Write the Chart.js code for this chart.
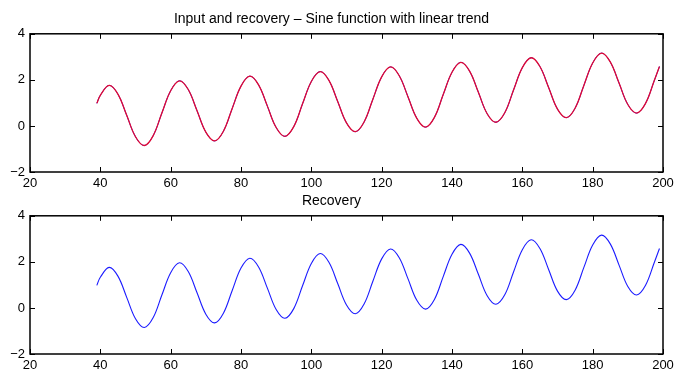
<!DOCTYPE html>
<html>
<head>
<meta charset="utf-8">
<script src="https://cdn.jsdelivr.net/npm/chart.js@4/dist/chart.umd.min.js"></script>
<style>
  body { margin: 0; background: #fff; }
  .box { position: absolute; left: 0; width: 676px; height: 190px; }
</style>
</head>
<body>
<div class="box" style="top:0"><canvas id="top"></canvas></div>
<div class="box" style="top:182px"><canvas id="bottom"></canvas></div>
<script>
// x positions (sample every 2.5 units)
const xValues = [39, 40, 42.5, 45, 47.5, 50, 52.5, 55, 57.5, 60, 62.5, 65, 67.5, 70, 72.5, 75, 77.5,
  80, 82.5, 85, 87.5, 90, 92.5, 95, 97.5, 100, 102.5, 105, 107.5, 110, 112.5, 115, 117.5,
  120, 122.5, 125, 127.5, 130, 132.5, 135, 137.5, 140, 142.5, 145, 147.5, 150, 152.5, 155, 157.5,
  160, 162.5, 165, 167.5, 170, 172.5, 175, 177.5, 180, 182.5, 185, 187.5, 190, 192.5, 195, 197.5, 199];

const inputSeries = [0.98, 1.33, 1.76, 1.38, 0.46, -0.47, -0.85, -0.43, 0.56, 1.53, 1.96, 1.58, 0.66,
  -0.27, -0.65, -0.23, 0.76, 1.73, 2.16, 1.78, 0.86, -0.07, -0.45, -0.03, 0.96, 1.93, 2.36, 1.98, 1.06,
  0.13, -0.25, 0.17, 1.16, 2.13, 2.56, 2.18, 1.26, 0.33, -0.05, 0.37, 1.36, 2.33, 2.76, 2.38, 1.46,
  0.53, 0.16, 0.57, 1.56, 2.53, 2.96, 2.58, 1.66, 0.73, 0.36, 0.77, 1.76, 2.73, 3.16, 2.78, 1.86,
  0.93, 0.56, 0.97, 1.96, 2.58];

const recoverySeries = [0.98, 1.33, 1.76, 1.38, 0.46, -0.47, -0.85, -0.43, 0.56, 1.53, 1.96, 1.58, 0.66,
  -0.27, -0.65, -0.23, 0.76, 1.73, 2.16, 1.78, 0.86, -0.07, -0.45, -0.03, 0.96, 1.93, 2.36, 1.98, 1.06,
  0.13, -0.25, 0.17, 1.16, 2.13, 2.56, 2.18, 1.26, 0.33, -0.05, 0.37, 1.36, 2.33, 2.76, 2.38, 1.46,
  0.53, 0.16, 0.57, 1.56, 2.53, 2.96, 2.58, 1.66, 0.73, 0.36, 0.77, 1.76, 2.73, 3.16, 2.78, 1.86,
  0.93, 0.56, 0.97, 1.96, 2.58];

const xTicks = [20, 40, 60, 80, 100, 120, 140, 160, 180, 200];
const yTicks = [-2, 0, 2, 4];

const topTitle = 'Input and recovery \u2013 Sine function with linear trend';
const bottomTitle = 'Recovery';

Chart.defaults.font.family = '"Liberation Sans", Arial, sans-serif';
Chart.defaults.font.size = 13;
Chart.defaults.color = '#000';

function pts(ys) {
  return xValues.map((x, i) => ({x: x, y: ys[i]}));
}

// matlab style box with inward ticks
const boxPlugin = {
  id: 'box',
  afterDatasetsDraw(chart) {
    const c = chart.ctx, a = chart.chartArea;
    const xs = chart.scales.x, ys = chart.scales.y;
    c.save();
    c.strokeStyle = '#000';
    c.lineWidth = 1;
    c.beginPath();
    xTicks.forEach(v => {
      const px = Math.round(xs.getPixelForValue(v)) + 0.5;
      c.moveTo(px, a.bottom); c.lineTo(px, a.bottom - 5);
      c.moveTo(px, a.top); c.lineTo(px, a.top + 5);
    });
    yTicks.forEach(v => {
      const py = Math.round(ys.getPixelForValue(v)) + 0.5;
      c.moveTo(a.left, py); c.lineTo(a.left + 5, py);
      c.moveTo(a.right, py); c.lineTo(a.right - 5, py);
    });
    c.stroke();
    c.lineWidth = 1.5;
    c.strokeRect(a.left, a.top, a.right - a.left, a.bottom - a.top);
    c.restore();
  }
};

function makeOptions(title) {
  return {
    responsive: true,
    maintainAspectRatio: false,
    animation: false,
    layout: {padding: {left: 0, right: 13, top: 0, bottom: 0}},
    elements: {line: {tension: 0.37}},
    plugins: {
      legend: {display: false},
      tooltip: {enabled: false},
      title: {display: true, text: title, font: {size: 14, weight: 'normal'}, padding: {top: 11, bottom: 6}}
    },
    scales: {
      x: {
        type: 'linear', min: 20, max: 200,
        grid: {display: false, drawTicks: false},
        border: {display: false},
        afterBuildTicks: s => { s.ticks = xTicks.map(v => ({value: v})); },
        afterFit: s => { s.height = 18; s.paddingLeft = 0; s.paddingRight = 0; },
        ticks: {padding: 4, maxRotation: 0}
      },
      y: {
        min: -2, max: 4,
        grid: {display: false, drawTicks: false},
        border: {display: false},
        afterBuildTicks: s => { s.ticks = yTicks.map(v => ({value: v})); },
        afterFit: s => { s.width = 30; },
        ticks: {padding: 5, callback: v => String(v).replace('-', '\u2212')}
      }
    }
  };
}

new Chart(document.getElementById('top'), {
  type: 'line',
  data: {
    datasets: [
      {label: 'Recovery', data: pts(recoverySeries), borderColor: '#e00a32', borderWidth: 1.3,
        pointRadius: 0},
      {label: 'Input', data: pts(inputSeries), borderColor: '#1a1aff', borderWidth: 1.0,
        pointRadius: 0}
    ]
  },
  options: makeOptions(topTitle),
  plugins: [boxPlugin]
});

new Chart(document.getElementById('bottom'), {
  type: 'line',
  data: {
    datasets: [
      {label: 'Recovery', data: pts(recoverySeries), borderColor: '#1a1aff', borderWidth: 1.1,
        pointRadius: 0}
    ]
  },
  options: makeOptions(bottomTitle),
  plugins: [boxPlugin]
});
</script>
</body>
</html>
